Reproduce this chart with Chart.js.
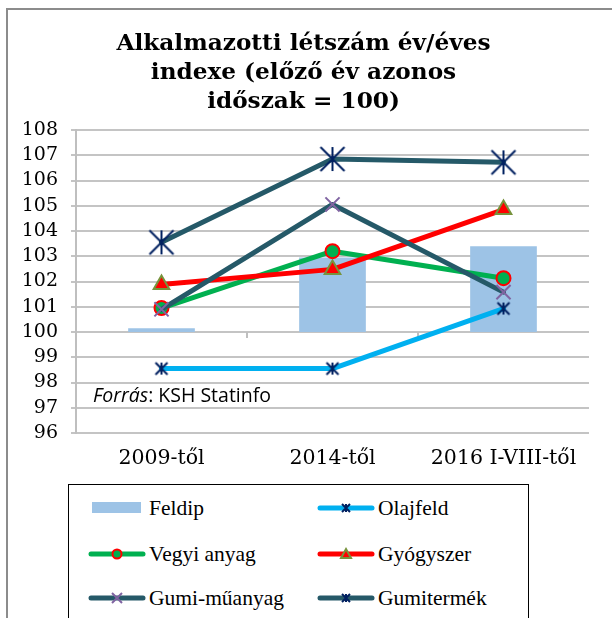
<!DOCTYPE html>
<html>
<head>
<meta charset="utf-8">
<script src="https://cdn.jsdelivr.net/npm/chart.js@4"></script>
<style>
  body { margin: 0; background: #fff; }
  #wrap { position: relative; width: 612px; height: 618px; overflow: hidden; background: #fff; }
  #frame { position: absolute; left: 6px; top: 8px; width: 700px; height: 700px;
           border-left: 2px solid #8c8c8c; border-top: 2px solid #8c8c8c; }
  #c { position: absolute; left: 0; top: 0; }
  #legend { position: absolute; left: 68px; top: 484px; width: 459px; height: 140px;
            border: 1px solid #000; background: #fff; }
  .item { position: absolute; height: 24px; display: flex; align-items: center;
          font-family: 'Liberation Serif', serif; font-size: 21.5px; color: #000; }
  .item canvas { margin-right: 3px; }
</style>
</head>
<body>
<div id="wrap">
  <div id="frame"></div>
  <canvas id="c" width="612" height="478"></canvas>
  <div id="legend"></div>
</div>
<script>
const categories = ['2009-től', '2014-től', '2016 I-VIII-től'];
const feldip = [100.15, 102.95, 103.4];
const olajfeld = [98.55, 98.55, 100.93];
const vegyi = [100.95, 103.2, 102.13];
const gyogyszer = [101.88, 102.48, 104.85];
const gumiMuanyag = [100.9, 105.05, 101.58];
const gumitermek = [103.55, 106.85, 106.72];

const yMin = 96, yMax = 108, yBase = 100;

// Excel style star: X plus vertical bar
function starImg(r, color, lw) {
    let c = document.createElement('canvas');
    let s = Math.ceil(2 * r + lw + 2);
    c.width = s; c.height = s;
    let ctx = c.getContext('2d');
    let m = s / 2;
    ctx.strokeStyle = color;
    ctx.lineWidth = lw;
    ctx.beginPath();
    ctx.moveTo(m - r, m - r); ctx.lineTo(m + r, m + r);
    ctx.moveTo(m - r, m + r); ctx.lineTo(m + r, m - r);
    ctx.moveTo(m, m - r); ctx.lineTo(m, m + r);
    ctx.stroke();
    return c;
}

const teal = '#255968';

const datasets = [
    { type: 'bar', label: 'Feldip', data: feldip.map(v => [yBase, v]),
      backgroundColor: '#9dc3e6', barPercentage: 0.39, categoryPercentage: 1, order: 6 },
    { type: 'line', label: 'Olajfeld', data: olajfeld, borderColor: '#00b0f0', borderWidth: 5,
      pointStyle: starImg(6, '#002060', 2), order: 5,
      legendMarker: { kind: 'star', r: 4, color: '#002060', lw: 2 } },
    { type: 'line', label: 'Vegyi anyag', data: vegyi, borderColor: '#00b050', borderWidth: 5,
      pointStyle: 'circle', pointRadius: 7, pointBackgroundColor: '#00b050',
      pointBorderColor: '#ff0000', pointBorderWidth: 2, order: 4,
      legendMarker: { kind: 'circle', r: 4.5, fill: '#00b050', color: '#ff0000', lw: 2 } },
    { type: 'line', label: 'Gyógyszer', data: gyogyszer, borderColor: '#ff0000', borderWidth: 5,
      pointStyle: 'triangle', pointRadius: 9, pointBackgroundColor: '#ff0000',
      pointBorderColor: '#77933c', pointBorderWidth: 2, order: 3,
      legendMarker: { kind: 'triangle', r: 5, fill: '#ff0000', color: '#77933c', lw: 2 } },
    { type: 'line', label: 'Gumi-műanyag', data: gumiMuanyag, borderColor: teal, borderWidth: 5,
      pointStyle: 'crossRot', pointRadius: 10, pointBorderColor: '#8064a2', pointBorderWidth: 2, order: 2,
      legendMarker: { kind: 'cross', r: 5, color: '#8064a2', lw: 2 } },
    { type: 'line', label: 'Gumitermék', data: gumitermek, borderColor: teal, borderWidth: 5,
      pointStyle: starImg(12, '#002060', 2), order: 1,
      legendMarker: { kind: 'star', r: 4, color: '#002060', lw: 2 } }
];
datasets.forEach(d => {
    if (d.type === 'line') {
        d.tension = 0;
        d.fill = false;
        d.borderJoinStyle = 'round';
        d.borderCapStyle = 'round';
    }
});

// small tick marks where the horizontal axis crosses (at 100)
const crossTicks = {
    id: 'crossTicks',
    beforeDatasetsDraw(chart) {
        let x = chart.scales.x, y = chart.scales.y;
        let ctx = chart.ctx;
        let y0 = y.getPixelForValue(yBase);
        ctx.save();
        ctx.strokeStyle = '#bfbfbf';
        ctx.lineWidth = 2;
        ctx.beginPath();
        for (let i = 1; i < categories.length; i++) {
            let xb = (x.getPixelForValue(i - 1) + x.getPixelForValue(i)) / 2;
            ctx.moveTo(xb, y0);
            ctx.lineTo(xb, y0 + 6);
        }
        ctx.stroke();
        ctx.restore();
    }
};

const sourceNote = {
    id: 'sourceNote',
    afterDatasetsDraw(chart) {
        let ctx = chart.ctx;
        let a = chart.chartArea;
        let x = a.left + 17;
        let yy = a.top + 266;
        ctx.save();
        ctx.fillStyle = '#000';
        ctx.textBaseline = 'middle';
        ctx.font = 'italic 19.5px "Open Sans"';
        ctx.fillText('Forrás', x, yy);
        let w = ctx.measureText('Forrás').width;
        ctx.font = '19.5px "Open Sans"';
        ctx.fillText(': KSH Statinfo', x + w, yy);
        ctx.restore();
    }
};

function build() {
    new Chart(document.getElementById('c').getContext('2d'), {
        data: { labels: categories, datasets: datasets },
        options: {
            responsive: false,
            animation: false,
            layout: { padding: { left: 18, right: 23, top: 0, bottom: 0 } },
            plugins: {
                legend: { display: false },
                tooltip: { enabled: false },
                title: {
                    display: true,
                    text: ['Alkalmazotti létszám év/éves', 'indexe (előző év azonos', 'időszak = 100)'],
                    color: '#000',
                    font: { family: '"DejaVu Serif"', weight: 'bold', size: 23.2, lineHeight: 1.25 },
                    padding: { top: 29, bottom: 14 }
                }
            },
            scales: {
                x: {
                    grid: { display: false },
                    border: { display: false },
                    ticks: { color: '#000', font: { family: '"DejaVu Serif"', size: 20.5 }, padding: 5 },
                    afterFit(s) { s.height = 478 - 433; }
                },
                y: {
                    min: yMin, max: yMax,
                    grid: { color: '#c4c4c4', lineWidth: 2, tickLength: 5, tickColor: '#c4c4c4' },
                    border: { color: '#bfbfbf', width: 2 },
                    ticks: { stepSize: 1, autoSkip: false, color: '#000',
                             font: { family: '"DejaVu Serif"', size: 19 }, padding: 13 },
                    afterFit(s) { s.width = 58; }
                }
            }
        },
        plugins: [crossTicks, sourceNote]
    });
}

// legend (two columns, like the original)
function legendSymbol(d) {
    let c = document.createElement('canvas');
    c.width = 58; c.height = 22;
    let ctx = c.getContext('2d');
    let m = 11, cx = 29;
    if (d.type === 'bar') {
        ctx.fillStyle = d.backgroundColor;
        ctx.fillRect(4, m - 6, 49, 11);
        return c;
    }
    ctx.strokeStyle = d.borderColor;
    ctx.lineWidth = 5;
    ctx.lineCap = 'round';
    ctx.beginPath(); ctx.moveTo(3, m); ctx.lineTo(55, m); ctx.stroke();
    let mk = d.legendMarker;
    ctx.lineWidth = mk.lw;
    ctx.strokeStyle = mk.color;
    ctx.lineCap = 'butt';
    ctx.beginPath();
    if (mk.kind === 'star') {
        let r = mk.r;
        ctx.moveTo(cx - r, m - r); ctx.lineTo(cx + r, m + r);
        ctx.moveTo(cx - r, m + r); ctx.lineTo(cx + r, m - r);
        ctx.moveTo(cx, m - r); ctx.lineTo(cx, m + r);
        ctx.stroke();
    } else if (mk.kind === 'cross') {
        let r = mk.r;
        ctx.moveTo(cx - r, m - r); ctx.lineTo(cx + r, m + r);
        ctx.moveTo(cx - r, m + r); ctx.lineTo(cx + r, m - r);
        ctx.stroke();
    } else if (mk.kind === 'circle') {
        ctx.fillStyle = mk.fill;
        ctx.arc(cx, m, mk.r, 0, Math.PI * 2);
        ctx.fill(); ctx.stroke();
    } else if (mk.kind === 'triangle') {
        let r = mk.r;
        ctx.fillStyle = mk.fill;
        ctx.moveTo(cx, m - r); ctx.lineTo(cx + r, m + r * 0.8); ctx.lineTo(cx - r, m + r * 0.8);
        ctx.closePath();
        ctx.fill(); ctx.stroke();
    }
    return c;
}

const legendEl = document.getElementById('legend');
const colX = [19, 248];
const rowY = [23, 69, 113];
datasets.forEach((d, i) => {
    let item = document.createElement('div');
    item.className = 'item';
    item.style.left = colX[i % 2] + 'px';
    item.style.top = (rowY[Math.floor(i / 2)] - 12) + 'px';
    item.appendChild(legendSymbol(d));
    let t = document.createElement('span');
    t.textContent = d.label;
    item.appendChild(t);
    legendEl.appendChild(item);
});

Promise.all([
    document.fonts.load('bold 20px "DejaVu Serif"'),
    document.fonts.load('19px "DejaVu Serif"'),
    document.fonts.load('18px "Open Sans"'),
    document.fonts.load('italic 18px "Open Sans"')
]).then(build, build);
</script>
</body>
</html>
